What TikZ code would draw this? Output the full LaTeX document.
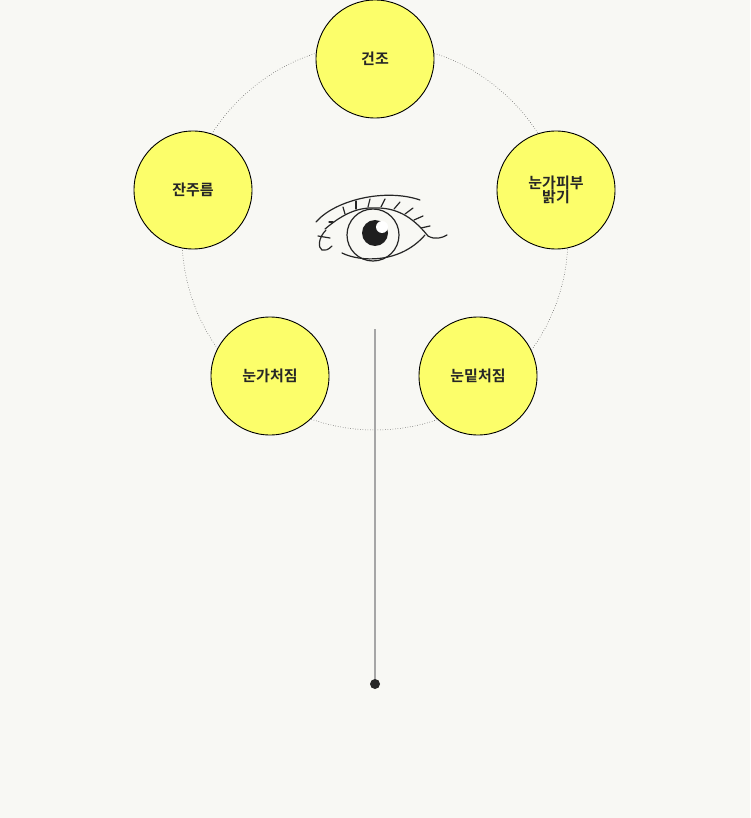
\documentclass[tikz,border=0pt]{standalone}
\usepackage{fontspec}
\newfontfamily\kr[BoldFont={Noto Sans CJK KR Bold}]{Noto Sans CJK KR}
\begin{document}
\begin{tikzpicture}[x=1pt,y=-1pt,
  bub/.style={circle,draw=black,line width=0.9pt,fill=yellow!70!white!95!black,minimum size=118pt,inner sep=0pt,align=center,font=\kr\bfseries\fontsize{15}{17}\selectfont,text=black!85},
  eyeline/.style={line width=1.2pt,line cap=round,draw=black!85}]
\definecolor{bg}{HTML}{F8F8F4}
\definecolor{yel}{HTML}{FCFE6A}
\fill[bg] (0,0) rectangle (750,818);
\useasboundingbox (0,0) rectangle (750,818);
\draw[dotted,line width=0.5pt,black!80] (375,237) circle (193);
\draw[gray!70,line width=1.2pt] (375,329) coordinate (ls) -- (375,684) coordinate (le);
\fill[black!85] (le) circle (5);
\tikzset{bub/.append style={fill=yel}}
\node[bub] (a) at (375,59) {건조};
\node[bub] (b) at (193,190) {잔주름};
\node[bub] (c) at (556,190) {눈가피부\\[-3pt]밝기};
\node[bub] (d) at (270,376) {눈가처짐};
\node[bub] (e) at (478,376) {눈밑처짐};
% eye
\draw[eyeline] (316,222) .. controls (335,200) and (385,188) .. (420,200);
\draw[eyeline] (325,229) .. controls (345,212) and (360,207) .. (377,208) .. controls (400,208) and (415,220) .. (428,236) .. controls (435,240) and (442,238) .. (447,235);
\draw[eyeline] (342,253) .. controls (360,262) and (400,264) .. (425,235);
\draw[eyeline] (326,230) .. controls (318,238) and (318,248) .. (322,250) .. controls (325,251) and (328,250) .. (332,246);
\draw[eyeline] (318,236) -- (330,238);
\draw[eyeline] (373,235) circle (26);
\fill[black!88] (375,233) circle (13);
\fill[white] (382,227) circle (6);
\foreach \x/\y/\dx/\dy in {333/222/-4/0, 345/214/-2/-7, 356/209/0/-8, 368/207/2/-8, 381/207/4/-8, 394/209/6/-7, 405/214/8/-6, 414/220/9/-4, 421/228/9/-2}
  \draw[eyeline] (\x,\y) -- ++(\dx,\dy);
\end{tikzpicture}
\end{document}
